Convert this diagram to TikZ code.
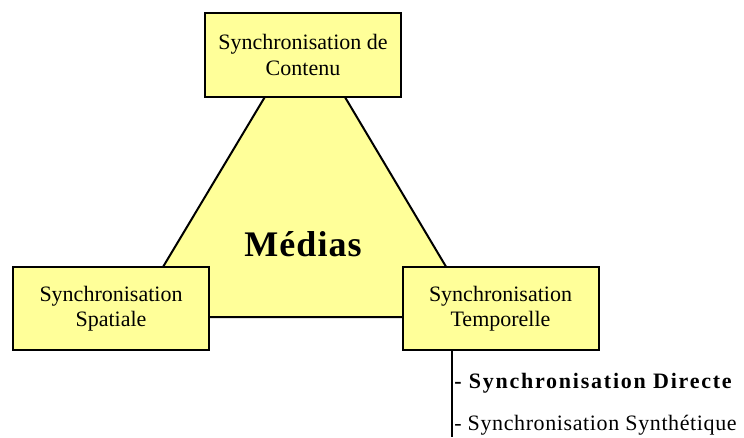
\documentclass[tikz,border=0pt]{standalone}
\usepackage{fontspec}
\setmainfont{Liberation Serif}
\definecolor{boxyellow}{RGB}{255,255,153}
\tikzset{
  px/.style={x=0.75pt,y=-0.75pt},
  synbox/.style={draw=black,line width=1.5pt,fill=boxyellow,minimum width=147pt,minimum height=62.5pt,align=center,inner sep=1pt,font=\fontsize{16.5}{19}\selectfont},
  tri/.style={draw=black,line width=1.5pt,fill=boxyellow,line join=miter},
  subitem/.style={anchor=west,inner sep=0pt}
}
\begin{document}
\begin{tikzpicture}[px]
\useasboundingbox (0,0) rectangle (744,437);
\coordinate (apex) at (305,30);
\coordinate (bl) at (133,317);
\coordinate (br) at (476,317);
\draw[tri] (apex) -- (bl) -- (br) -- cycle;
\node[font=\fontsize{27}{30}\selectfont\bfseries\addfontfeatures{LetterSpace=3}] (med) at (303,244) {Médias};
\node[synbox] (tc) at (303,55) {Synchronisation de\\Contenu};
\node[synbox] (ls) at (111,308.5) {Synchronisation\\Spatiale};
\node[synbox] (rt) at (500.5,308.5) {Synchronisation\\Temporelle};
\coordinate (lend) at (452,437);
\draw[line width=0.8pt] (rt.south -| lend) -- (lend);
\node[subitem,font=\fontsize{16.5}{18}\selectfont\bfseries\addfontfeatures{LetterSpace=8}] (sd) at (454,383) {- Synchronisation Directe};
\node[subitem,font=\fontsize{16.5}{18}\selectfont\addfontfeatures{LetterSpace=2.8}] (ss) at (454,425) {- Synchronisation Synthétique};
\end{tikzpicture}
\end{document}
